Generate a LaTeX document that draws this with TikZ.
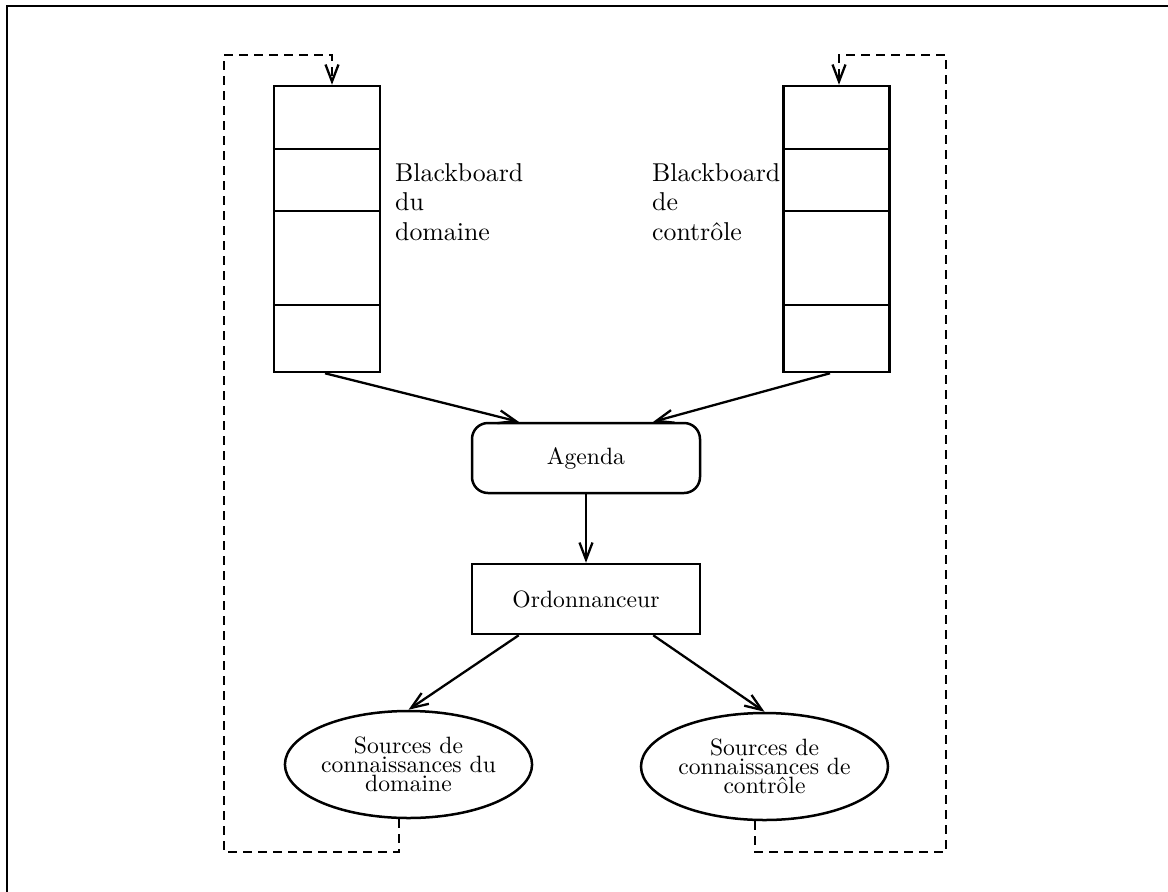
\documentclass[tikz,border=0pt]{standalone}
\usepackage{fontspec}
\setmainfont{lmroman10-regular.otf}
\usetikzlibrary{shapes.geometric,arrows.meta,calc}
\begin{document}
\begin{tikzpicture}[x=1pt,y=-1pt,
  box/.style={draw,line width=2.5pt,inner sep=0pt},
  divider/.style={line width=2.2pt},
  tip/.style={-{Straight Barb[length=17pt,width=13pt,line width=2.3pt]}},
  arr/.style={line width=2.3pt,tip},
  dsh/.style={line width=2.3pt,dash pattern=on 9pt off 6pt,tip},
  lbl/.style={anchor=north west,inner sep=0pt,align=left,font=\fontsize{25.8}{29.5}\selectfont},
  ctext/.style={font=\fontsize{23.6}{19.2}\selectfont},
  src/.style={box,ellipse,minimum width=247pt,minimum height=107pt,align=center,ctext}
]
\useasboundingbox (0,0) rectangle (1168,892);
% frame
\draw[line width=2pt] (7,892) -- (7,6) -- (1168,6);

% blackboards
\node[box,minimum width=106pt,minimum height=286pt] (bbd) at (327,229) {};
\node[box,minimum width=106pt,minimum height=286pt] (bbc) at (836.5,229) {};
\foreach \b in {bbd,bbc}{
  \foreach \d in {64.5,126.5,220.5}{
    \draw[divider] ($(\b.north west)+(0,\d)$) -- ($(\b.north east)+(0,\d)$);
  }
}
\node[lbl] (lbd) at (395,163) {Blackboard\\du\\domaine};
\node[lbl] (lbc) at (652,163) {Blackboard\\de\\contrôle};

% central nodes
\node[box,rounded corners=16pt,minimum width=228pt,minimum height=70pt,ctext] (ag) at (586,458) {Agenda};
\node[box,minimum width=228pt,minimum height=70pt,ctext] (ord) at (586,599) {Ordonnanceur};

% knowledge sources
\node[src] (sd) at (408.5,764.5) {Sources de\\connaissances du\\domaine};
\node[src] (sc) at (764.5,766.5) {Sources de\\connaissances de\\contrôle};

% solid arrows
\draw[arr] ($(bbd.south)+(-2,0)$) -- ($(ag.north west)+(48,0)$);
\draw[arr] ($(bbc.south)+(-6.5,0)$) -- ($(ag.north east)+(-48,0)$);
\draw[arr] (ag.south) -- (ord.north);
\draw[arr] ($(ord.south west)+(48,0)$) -- (sd.north);
\draw[arr] ($(ord.south east)+(-48,0)$) -- (sc.north);

% dashed feedback loops
\coordinate (lb) at (224,852);
\coordinate (lt) at (224,55);
\coordinate (rb) at (946,852);
\coordinate (rt) at (946,55);
\draw[dsh] ($(sd.south)+(-9.5,0)$) |- (lb) -- (lt) -| ($(bbd.north)+(5,0)$);
\draw[dsh] ($(sc.south)+(-9.5,0)$) |- (rb) -- (rt) -| ($(bbc.north)+(2.5,0)$);
\end{tikzpicture}
\end{document}
